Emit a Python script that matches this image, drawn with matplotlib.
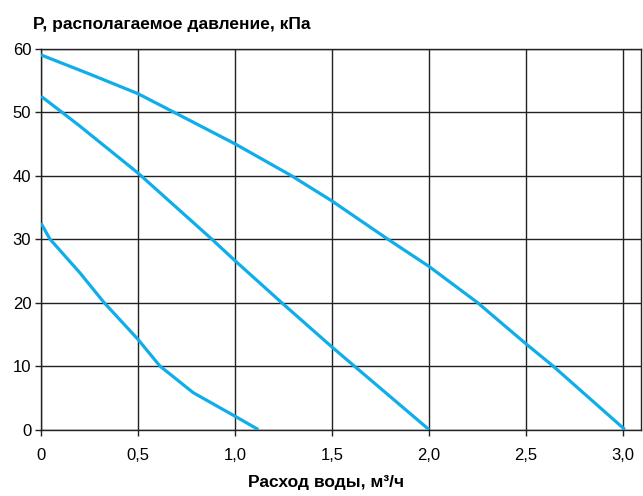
import matplotlib
matplotlib.use("Agg")
import matplotlib.pyplot as plt

plt.rcParams['font.family'] = ['Liberation Sans', 'DejaVu Sans']

# Curves: flow, m3/h -> available pressure, kPa
flow_1 = [0, 0.25, 0.5, 0.684, 1.0, 1.29, 1.5, 1.787, 2.0, 2.25, 2.5, 2.64, 3.01]
press_1 = [59, 56.0, 52.9, 50, 45, 40, 36, 30, 25.7, 20, 13.5, 10, 0]

flow_2 = [0, 0.107, 0.2, 0.5, 0.88, 1.0, 1.24, 1.5, 1.615, 2.0]
press_2 = [52.5, 50, 47.8, 40.4, 30, 26.6, 20, 13, 10, 0]

flow_3 = [0, 0.046, 0.2, 0.325, 0.5, 0.613, 0.785, 1.0, 1.12]
press_3 = [32.5, 30, 24.7, 20, 14.2, 10, 5.8, 2.1, 0]

x_ticks = [0, 0.5, 1.0, 1.5, 2.0, 2.5, 3.0]
x_labels = ['0', '0,5', '1,0', '1,5', '2,0', '2,5', '3,0']
y_ticks = [0, 10, 20, 30, 40, 50, 60]

fig = plt.figure(figsize=(6.43, 4.96), dpi=100)
ax = fig.add_axes([0.0638, 0.134, 0.933, 0.768])

line_color = '#0fadea'
for fx, py in [(flow_1, press_1), (flow_2, press_2), (flow_3, press_3)]:
    ax.plot(fx, py, color=line_color, lw=2.3, solid_capstyle='butt', zorder=3)

ax.set_xlim(0, 3.093)
ax.set_ylim(0, 60)
ax.set_xticks(x_ticks)
ax.set_xticklabels(x_labels)
ax.set_yticks(y_ticks)
ax.grid(True, color='#222222', lw=1.0)
for s in ax.spines.values():
    s.set_color('#222222')
    s.set_linewidth(1.0)
ax.tick_params(axis='both', length=4, width=1.0, color='#222222', labelsize=12)
ax.tick_params(axis='x', pad=9.5)
ax.tick_params(axis='y', pad=3)

fig.text(33 / 643, 1 - 25 / 496, 'P, располагаемое давление, кПа',
         fontsize=12.5, fontweight='bold', va='center', ha='left')
fig.text(326 / 643, 1 - 483 / 496, 'Расход воды, м³/ч',
         fontsize=12.5, fontweight='bold', va='center', ha='center')

fig.savefig('out.png', dpi=100)
